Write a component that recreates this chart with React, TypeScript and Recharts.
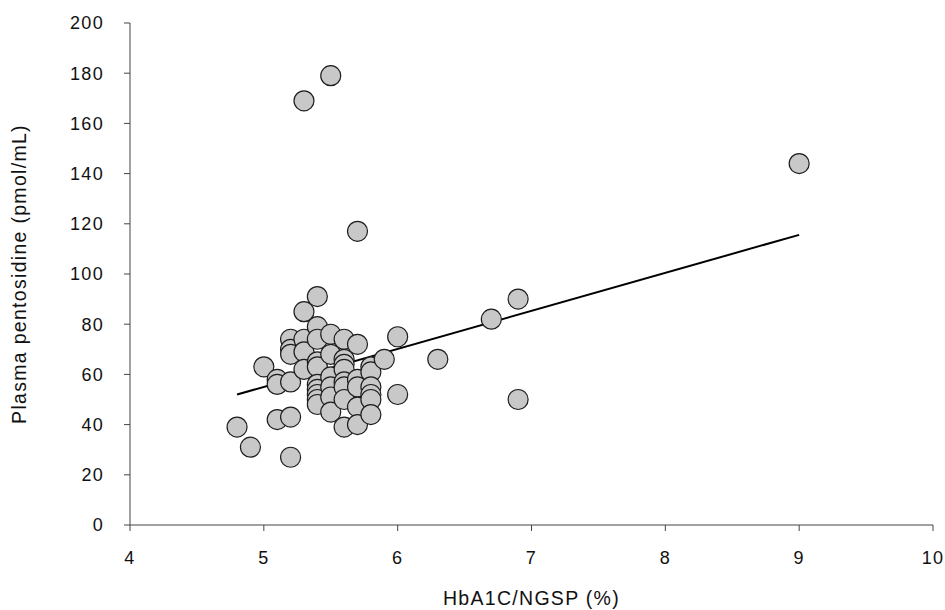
import { ScatterChart, Scatter, XAxis, YAxis, ReferenceLine } from "recharts";

// HbA1c (NGSP, %) vs plasma pentosidine (pmol/mL)
const hba1c = [
  4.8, 4.9, 5.0,
  5.1, 5.1, 5.1,
  5.2, 5.2, 5.2, 5.2, 5.2, 5.2,
  5.3, 5.3, 5.3, 5.3, 5.3,
  5.4, 5.4, 5.4, 5.4, 5.4, 5.4, 5.4, 5.4, 5.4, 5.4,
  5.5, 5.5, 5.5, 5.5, 5.5, 5.5, 5.5,
  5.6, 5.6, 5.6, 5.6, 5.6, 5.6, 5.6, 5.6,
  5.7, 5.7, 5.7, 5.7, 5.7, 5.7,
  5.8, 5.8, 5.8, 5.8, 5.8, 5.8,
  5.9, 6.0, 6.0, 6.3, 6.7, 6.9, 6.9, 9.0,
];
const pentosidine = [
  39, 31, 63,
  58, 56, 42,
  74, 70, 68, 57, 43, 27,
  169, 85, 74, 69, 62,
  91, 79, 74, 65, 63, 56, 54, 52, 50, 48,
  179, 76, 68, 59, 55, 51, 45,
  74, 66, 64, 62, 57, 55, 50, 39,
  117, 72, 58, 55, 47, 40,
  63, 61, 55, 52, 50, 44,
  66, 75, 52, 66, 82, 90, 50, 144,
];
const xTicks = [4, 5, 6, 7, 8, 9, 10];
const yTicks = [0, 20, 40, 60, 80, 100, 120, 140, 160, 180, 200];
// regression line end points
const trendX = [4.8, 9.0];
const trendY = [52, 115.6];

const points = hba1c.map((x, i) => ({ x, y: pentosidine[i] }));
const font = "'Liberation Sans', Arial, sans-serif";
const tickStyle = { fontSize: 18, fill: "#111", fontFamily: font, letterSpacing: 1.3 };

const Dot = (props: any) => (
  <circle cx={props.cx} cy={props.cy} r={10} fill="#c8c8c8" stroke="#1e1e1e" strokeWidth={1.2} />
);

const YTitle = (props: any) => {
  const vb = props.viewBox;
  const cy = vb.y + vb.height / 2;
  return (
    <text
      x={26}
      y={cy}
      transform={`rotate(-90, 26, ${cy})`}
      textAnchor="middle"
      fontSize={19.5}
      fontFamily={font}
      letterSpacing={1.3}
      fill="#111"
    >
      Plasma pentosidine (pmol/mL)
    </text>
  );
};

const XTitle = (props: any) => {
  const vb = props.viewBox;
  return (
    <text
      x={vb.x + vb.width / 2}
      y={605}
      textAnchor="middle"
      fontSize={19.5}
      fontFamily={font}
      letterSpacing={1.3}
      fill="#111"
    >
      HbA1C/NGSP (%)
    </text>
  );
};

export default function App() {
  return (
    <div style={{ position: "absolute", left: 0, top: 0, background: "#fff" }}>
      <ScatterChart width={945} height={610} margin={{ top: 23, right: 12, bottom: 0, left: 0 }}>
        <XAxis
          type="number"
          dataKey="x"
          domain={[4, 10]}
          ticks={xTicks}
          height={85}
          tickSize={6}
          tickMargin={20}
          tick={tickStyle}
          stroke="#444"
          label={<XTitle />}
        />
        <YAxis
          type="number"
          dataKey="y"
          domain={[0, 200]}
          ticks={yTicks}
          width={130}
          tickSize={6}
          tickMargin={20}
          tick={tickStyle}
          stroke="#444"
          label={<YTitle />}
        />
        <Scatter data={points} shape={Dot} isAnimationActive={false} />
        <ReferenceLine
          segment={[
            { x: trendX[0], y: trendY[0] },
            { x: trendX[1], y: trendY[1] },
          ]}
          stroke="#000"
          strokeWidth={2}
          ifOverflow="visible"
        />
      </ScatterChart>
    </div>
  );
}
